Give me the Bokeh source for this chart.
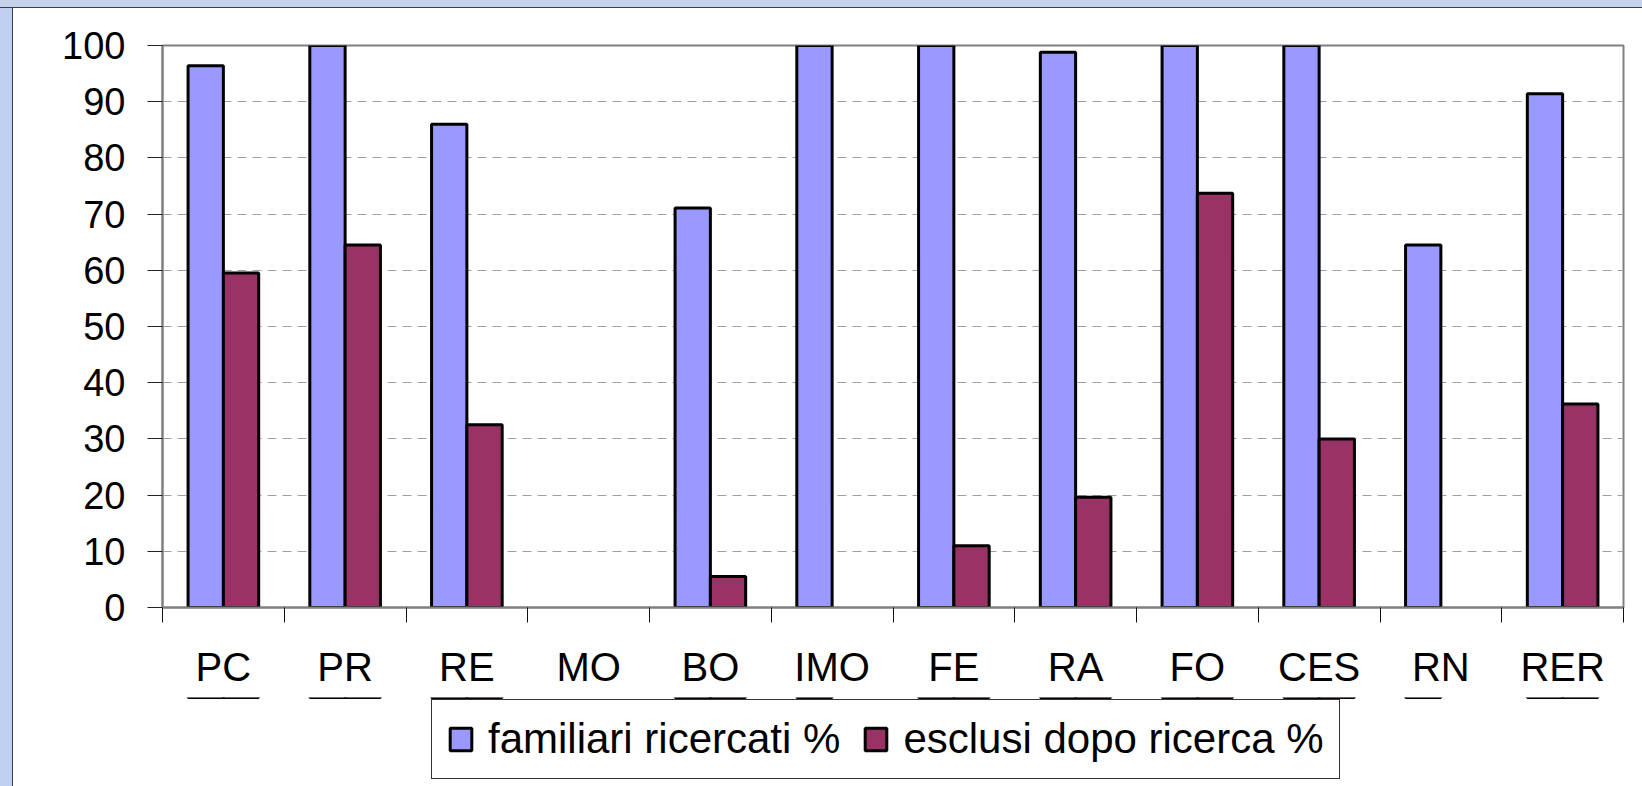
from bokeh.plotting import figure
from bokeh.layouts import column
from bokeh.models import (Range1d, FixedTicker, Legend, LegendItem, ColumnDataSource,
                          GlobalInlineStyleSheet)
from bokeh.embed import file_html
from bokeh.resources import INLINE

categories = ["PC", "PR", "RE", "MO", "BO", "IMO", "FE", "RA", "FO", "CES", "RN", "RER"]
familiari = [96.4, 100, 86.0, 0, 71.1, 100, 100, 98.8, 100, 100, 64.5, 91.4]
esclusi = [59.5, 64.5, 32.5, 0, 5.5, 0, 11.0, 19.6, 73.7, 30.0, 0, 36.2]
series_names = ["familiari ricercati %", "esclusi dopo ricerca %"]
y_ticks = list(range(0, 101, 10))

FONT = "Liberation Sans"
BLUE = "#9999FF"
PLUM = "#993366"
BW = 0.29

p = figure(frame_width=1461, frame_height=562,
           x_range=Range1d(-0.5, 11.5), y_range=Range1d(0, 100),
           output_backend="svg", toolbar_location=None,
           min_border_left=149, min_border_right=19, min_border_top=37, min_border_bottom=90)
p.margin = (8, 0, 0, 13)
p.stylesheets = [GlobalInlineStyleSheet(css=(
    "body{background:"
    "linear-gradient(to bottom,#c6d1ea 0px,#c6d1ea 7px,#3c3c4c 7px,#3c3c4c 8px,rgba(0,0,0,0) 8px),"
    "linear-gradient(to right,#c0d0f2 0px,#c0d0f2 12px,#3c3c4c 12px,#3c3c4c 13px,#ffffff 13px);}"
))]

p.background_fill_color = "white"
p.border_fill_color = "white"
p.outline_line_color = "#808080"
p.outline_line_width = 2

src_f = ColumnDataSource(dict(
    x=[i - BW / 2 for i, v in enumerate(familiari) if v > 0],
    top=[v for v in familiari if v > 0]))
src_e = ColumnDataSource(dict(
    x=[i + BW / 2 for i, v in enumerate(esclusi) if v > 0],
    top=[v for v in esclusi if v > 0]))

p.vbar(x="x", top="top", bottom=0, width=BW, source=src_f,
       fill_color=BLUE, line_color="black", line_width=3)
p.vbar(x="x", top="top", bottom=0, width=BW, source=src_e,
       fill_color=PLUM, line_color="black", line_width=3)

# x axis
xa = p.xaxis[0]
xa.ticker = FixedTicker(ticks=list(range(len(categories))),
                        minor_ticks=[i - 0.5 for i in range(len(categories) + 1)])
xa.major_label_overrides = {i: c for i, c in enumerate(categories)}
xa.major_tick_out = 0
xa.major_tick_in = 0
xa.minor_tick_out = 15
xa.minor_tick_in = 0
xa.minor_tick_line_color = "#111111"
xa.minor_tick_line_width = 1
xa.axis_line_color = "#808080"
xa.axis_line_width = 2
xa.major_label_standoff = 22
xa.major_label_text_font = FONT
xa.major_label_text_font_size = "40px"
xa.major_label_text_color = "black"

# y axis
ya = p.yaxis[0]
ya.ticker = FixedTicker(ticks=y_ticks)
ya.major_tick_out = 15
ya.major_tick_in = 0
ya.minor_tick_out = 0
ya.minor_tick_in = 0
ya.major_tick_line_color = "#222222"
ya.axis_line_color = "#808080"
ya.axis_line_width = 2
ya.major_label_standoff = 22
ya.major_label_text_font = FONT
ya.major_label_text_font_size = "38px"
ya.major_label_text_color = "black"

p.xgrid.visible = False
p.ygrid.ticker = FixedTicker(ticks=y_ticks)
p.ygrid.grid_line_color = "#a0a0a0"
p.ygrid.grid_line_dash = "9 6"
p.ygrid.grid_line_width = 1

# legend strip: a second figure holding only the legend; its y range lies far
# from the bars, so the series renderers there only supply the legend swatches
lf = figure(width=1629, height=89, x_range=Range1d(-0.5, 11.5), y_range=Range1d(-10000, -9999),
            output_backend="svg", toolbar_location=None,
            x_axis_location=None, y_axis_location=None,
            min_border_left=0, min_border_right=0, min_border_top=0, min_border_bottom=0)
lf.margin = (0, 0, 0, 13)
lf.outline_line_color = None
lf.xgrid.visible = False
lf.ygrid.visible = False
lf.background_fill_color = "white"
lf.border_fill_color = "white"
l1 = lf.vbar(x="x", top="top", bottom=0, width=BW, source=src_f,
             fill_color=BLUE, line_color="black", line_width=3)
l2 = lf.vbar(x="x", top="top", bottom=0, width=BW, source=src_e,
             fill_color=PLUM, line_color="black", line_width=3)

legend = Legend(items=[LegendItem(label=series_names[0], renderers=[l1]),
                       LegendItem(label=series_names[1], renderers=[l2])],
                location=(269, 7), orientation="horizontal",
                label_text_font=FONT, label_text_font_size="42px", label_text_color="black",
                glyph_width=27, glyph_height=28, label_standoff=14, spacing=22,
                padding=15, margin=0, border_line_color="#333333", border_line_width=1,
                border_line_alpha=1.0,
                background_fill_color="white", background_fill_alpha=1.0)
lf.add_layout(legend)

layout = column(p, lf)
open("out.html", "w").write(file_html(layout, INLINE))
